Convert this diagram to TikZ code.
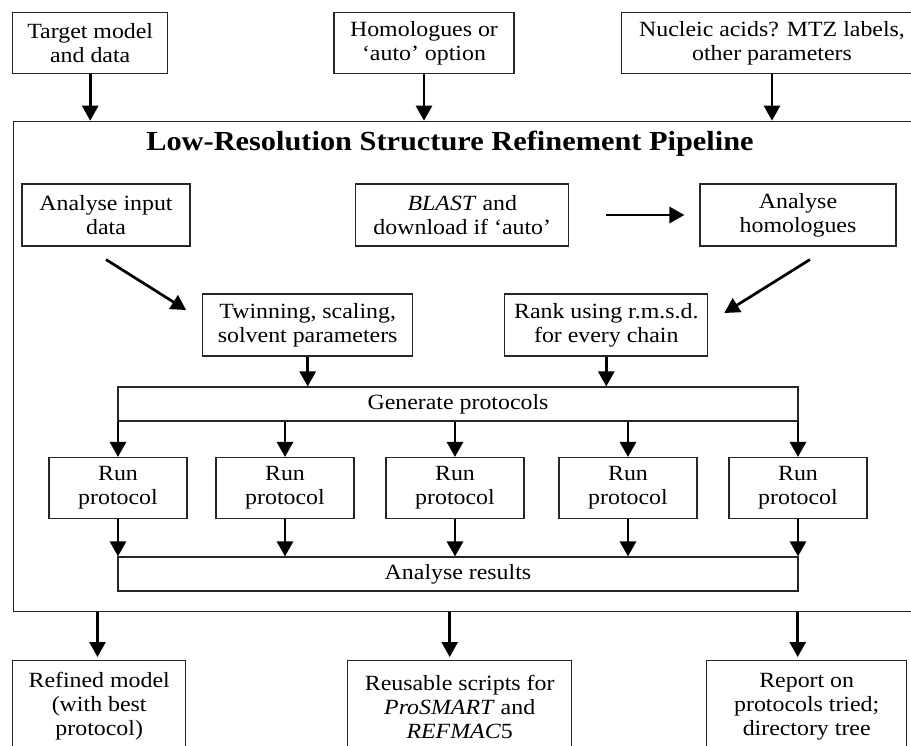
\documentclass[tikz,border=0pt]{standalone}
\usepackage{fontspec}
\setmainfont{Liberation Serif}[FakeStretch=1.1]
\usepackage{tikz}
\usetikzlibrary{arrows.meta, calc}

\begin{document}
\begin{tikzpicture}[x=1pt, y=-1pt,
		box/.style={draw=black!85, line width=1.1pt, align=center, inner sep=0pt,
			font=\fontsize{21.7}{24}\selectfont},
		flow/.style={-{Triangle[width=16pt,length=15pt]}, line width=2.7pt}]
	
			\useasboundingbox (0,0) rectangle (911,745);
			
			% inputs
			\node[box, minimum width=155, minimum height=61] (target) at (90.2,43.3) {Target model\\and data};
			\node[box, minimum width=180, minimum height=61] (homol) at (424,43.3) {Homologues or\\‘auto’ option};
			\node[box, minimum width=301, minimum height=61] (nucleic) at (772,43.3) {Nucleic acids? MTZ labels,\\other parameters};
			
			% pipeline frame
			\node[box, minimum width=907, minimum height=490, anchor=north west] (pipe) at (12.7,120.7) {};
			\node[anchor=base, font=\fontsize{27.6}{30}\selectfont\bfseries] (title) at (450,150) {Low-Resolution Structure Refinement Pipeline};
			
			\node[box, minimum width=168, minimum height=62] (inp) at (106,215) {Analyse input\\data};
			\node[box, minimum width=213, minimum height=62] (blast) at (462.3,215) {\textit{BLAST} and\\download if ‘auto’};
			\node[box, minimum width=196, minimum height=62] (anhom) at (798,215) {Analyse\\homologues};
			
			\node[box, minimum width=210, minimum height=62] (twin) at (307.7,325) {Twinning, scaling,\\solvent parameters};
			\node[box, minimum width=203, minimum height=62] (rank) at (606.3,325) {Rank using r.m.s.d.\\for every chain};
			
			\node[box, minimum width=680, minimum height=34] (gen) at (458,404) {Generate protocols};
			\node[box, minimum width=680, minimum height=34] (res) at (458,574) {Analyse results};
			
			\foreach \x [count=\i] in {118,285,455,628,798}{
				\node[box, minimum width=138, minimum height=61] (run\i) at (\x,488) {Run\\protocol};
				\draw[flow] (run\i.north |- gen.south) -- (run\i.north);
				\draw[flow] (run\i.south) -- (run\i.south |- res.north);
			}
			
			% outputs
			\node[box, minimum width=173, minimum height=92, anchor=north] (refined) at (99.2,660) {Refined model\\(with best\\protocol)};
			\node[box, minimum width=224, minimum height=92, anchor=north] (scripts) at (459.7,660) {Reusable scripts for\\\textit{ProSMART} and\\\textit{REFMAC}5};
			\node[box, minimum width=200, minimum height=92, anchor=north] (report) at (806.7,660) {Report on\\protocols tried;\\directory tree};
			
			% arrows
			\draw[flow] (target.south) -- (target.south |- pipe.north);
			\draw[flow] (homol.south) -- (homol.south |- pipe.north);
			\draw[flow] (nucleic.south) -- (nucleic.south |- pipe.north);
			
			\draw[flow, shorten <=37pt, shorten >=15pt] (blast) -- (anhom);
			\draw[flow] ($(inp.south)+(0,13)$) -- ($(twin.west)+(-16,-15)$);
			\draw[flow] ($(anhom.south)+(12,13)$) -- ($(rank.east)+(16,-12)$);
			
			\draw[flow] (twin.south) -- (twin.south |- gen.north);
			\draw[flow] (rank.south) -- (rank.south |- gen.north);
			
			\draw[flow, shorten >=3pt] ([xshift=-1.7pt]refined.north |- pipe.south) -- ([xshift=-1.7pt]refined.north);
			\draw[flow, shorten >=3pt] ([xshift=-10pt]scripts.north |- pipe.south) -- ([xshift=-10pt]scripts.north);
			\draw[flow, shorten >=3pt] ([xshift=-9pt]report.north |- pipe.south) -- ([xshift=-9pt]report.north);
			
\end{tikzpicture}
\end{document}
